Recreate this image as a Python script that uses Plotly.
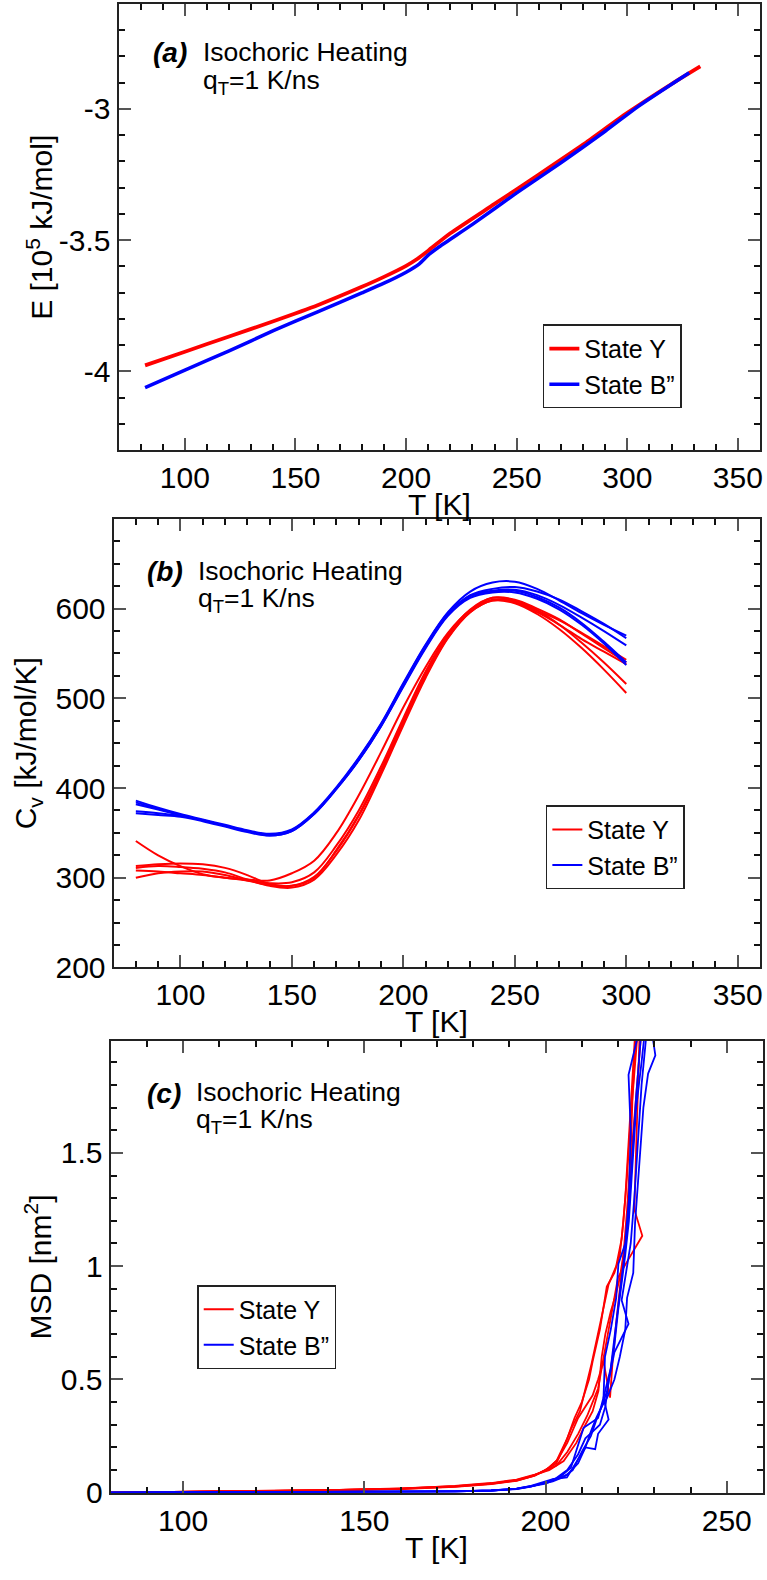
import plotly.graph_objects as go

FONT = "Liberation Sans, Arial, Helvetica, sans-serif"
RED = "#ff0000"
BLUE = "#0000ff"

# ---------------- Panel (a): energy vs T ----------------
E_T_Y = [82, 100, 120, 140, 160, 180, 190, 200, 205, 210, 220, 240, 260, 280, 300, 320, 333]
E_Y = [-3.977, -3.925, -3.867, -3.809, -3.748, -3.678, -3.640, -3.598, -3.572, -3.540,
       -3.474, -3.362, -3.250, -3.136, -3.015, -2.905, -2.838]
E_T_B = [82, 100, 120, 140, 160, 180, 190, 200, 206, 210, 215, 230, 250, 270, 290, 305, 328]
E_B = [-4.062, -3.995, -3.922, -3.845, -3.773, -3.701, -3.664, -3.622, -3.590, -3.557,
       -3.525, -3.440, -3.320, -3.205, -3.085, -2.990, -2.862]

# ---------------- Panel (b): heat capacity vs T ----------------
CV_T = [80, 90, 100, 110, 120, 130, 140, 150, 160, 170, 180, 190, 200, 210, 220, 230, 240, 250, 260, 270, 280, 290, 300]
CV_Y_RUNS = [
    [341, 325, 313, 304, 300, 298, 297, 305, 319, 350, 392, 440, 490, 535, 573, 598, 610, 608, 598, 587, 573, 558, 543],
    [313, 315, 316, 315, 311, 303, 293, 291, 300, 331, 370, 420, 475, 527, 570, 598, 612, 610, 600, 588, 572, 556, 540],
    [311, 313, 312, 310, 306, 298, 291, 289, 298, 326, 364, 415, 470, 523, 567, 596, 609, 607, 596, 582, 566, 552, 538],
    [308, 307, 305, 303, 300, 297, 294, 295, 306, 336, 375, 424, 478, 530, 571, 599, 612, 609, 598, 582, 562, 540, 516],
    [300, 305, 307, 307, 303, 297, 292, 291, 301, 330, 369, 418, 473, 525, 568, 596, 609, 606, 594, 577, 556, 532, 506],
]
CV_B_RUNS = [
    [386, 378, 371, 365, 359, 353, 349, 354, 373, 401, 434, 472, 517, 560, 596, 619, 629, 630, 622, 609, 595, 582, 570],
    [384, 377, 370, 364, 358, 352, 348, 353, 372, 400, 432, 470, 515, 558, 594, 615, 622, 624, 619, 610, 597, 583, 567],
    [382, 376, 370, 364, 358, 352, 347, 352, 371, 399, 431, 469, 514, 557, 593, 614, 620, 621, 615, 604, 590, 575, 559],
    [374, 372, 369, 364, 358, 352, 348, 353, 372, 400, 433, 471, 516, 559, 595, 614, 619, 620, 613, 601, 584, 563, 540],
    [372, 370, 368, 363, 357, 351, 347, 352, 371, 399, 431, 469, 513, 556, 592, 612, 618, 618, 611, 599, 582, 561, 537],
]

# ---------------- Panel (c): MSD vs T ----------------
MSD_Y_T = [
    [80, 100, 120, 140, 160, 175, 185, 192, 197, 200, 203, 206, 208, 210, 212, 213, 215, 216.9, 219, 220.5, 221.5, 222.5, 223.5, 224.5, 225.5],
    [80, 100, 120, 140, 160, 175, 185, 192, 196, 199, 203, 206, 209, 211.5, 213, 214.5, 215.5, 217, 218.5, 220, 222.5, 226.7, 224.5, 225, 226],
    [80, 100, 120, 140, 160, 175, 185, 192, 197, 201, 203.5, 206, 209, 211, 213, 214.5, 216, 217.8, 218.5, 219.5, 220.5, 221.5, 222.5, 223.5, 224, 225],
    [80, 100, 120, 140, 160, 175, 185, 192, 197, 200, 203, 205, 207, 209.5, 212.7, 217.4, 219.5, 221, 222, 223, 224, 224.8],
    [80, 100, 120, 140, 160, 175, 185, 192, 197, 201, 205, 208.5, 211, 213, 214.6, 215.5, 216.5, 218, 219.5, 220.5, 222, 223, 224, 225.5, 226.5],
]
MSD_Y = [
    [0.001, 0.004, 0.007, 0.011, 0.018, 0.028, 0.040, 0.056, 0.078, 0.10, 0.14, 0.24, 0.33, 0.40, 0.50, 0.58, 0.72, 0.91, 0.97, 1.05, 1.20, 1.40, 1.65, 1.85, 2.05],
    [0.001, 0.004, 0.008, 0.012, 0.019, 0.029, 0.041, 0.055, 0.072, 0.09, 0.12, 0.18, 0.26, 0.34, 0.40, 0.46, 0.55, 0.68, 0.82, 0.95, 1.02, 1.134, 1.25, 1.50, 2.05],
    [0.001, 0.003, 0.006, 0.010, 0.016, 0.026, 0.038, 0.053, 0.075, 0.11, 0.15, 0.22, 0.33, 0.38, 0.43, 0.50, 0.58, 0.42, 0.58, 0.75, 0.90, 1.05, 1.25, 1.50, 1.75, 2.05],
    [0.001, 0.004, 0.007, 0.011, 0.017, 0.027, 0.039, 0.054, 0.076, 0.10, 0.13, 0.20, 0.28, 0.36, 0.57, 0.92, 1.00, 1.12, 1.30, 1.55, 1.80, 2.05],
    [0.001, 0.004, 0.007, 0.012, 0.018, 0.030, 0.043, 0.058, 0.080, 0.10, 0.14, 0.22, 0.30, 0.36, 0.45, 0.60, 0.70, 0.80, 0.88, 0.95, 1.10, 1.30, 1.55, 1.85, 2.05],
]
MSD_B_T = [
    [80, 100, 120, 140, 160, 175, 185, 192, 196, 199, 202, 205.9, 208, 211, 213.7, 214.5, 217.4, 216, 218, 219, 220.2, 221, 222, 223, 224, 225, 226.5],
    [80, 100, 120, 140, 160, 175, 185, 192, 196, 200, 203, 206, 209, 211, 213, 215, 216.5, 217.5, 219, 222.9, 221, 222.2, 223.5, 224.5, 225.5, 226.5, 228],
    [80, 100, 120, 140, 160, 175, 185, 192, 196, 201, 204, 207, 210.5, 212.5, 214.5, 216, 216.4, 218, 219.5, 220.1, 222, 223, 223.5, 222.9, 224.5, 226],
    [80, 100, 120, 140, 160, 175, 185, 192, 196, 202, 205, 207.5, 210, 212.5, 214, 215.5, 217, 219, 220.5, 222, 222.5, 224.2, 224.7, 225.8, 227, 228.3, 230.3, 229.2],
    [80, 100, 120, 140, 160, 175, 185, 192, 196, 200, 203, 206, 209, 211, 212.5, 214, 215.5, 217, 218, 219, 220, 221, 222, 223, 224, 225, 226.5, 227.5],
]
MSD_B = [
    [0.0, 0.001, 0.002, 0.003, 0.004, 0.006, 0.010, 0.018, 0.030, 0.045, 0.060, 0.068, 0.12, 0.20, 0.192, 0.26, 0.323, 0.42, 0.55, 0.68, 0.82, 0.95, 1.08, 1.25, 1.50, 1.75, 2.05],
    [0.0, 0.001, 0.002, 0.003, 0.004, 0.006, 0.010, 0.017, 0.028, 0.045, 0.065, 0.10, 0.17, 0.24, 0.27, 0.30, 0.38, 0.50, 0.62, 0.745, 0.85, 0.97, 1.10, 1.30, 1.55, 1.80, 2.05],
    [0.0, 0.001, 0.002, 0.003, 0.004, 0.006, 0.009, 0.016, 0.027, 0.05, 0.07, 0.11, 0.287, 0.31, 0.33, 0.42, 0.60, 0.72, 0.86, 1.01, 1.10, 1.30, 1.60, 1.844, 1.95, 2.05],
    [0.0, 0.001, 0.002, 0.003, 0.004, 0.006, 0.010, 0.018, 0.029, 0.05, 0.07, 0.10, 0.18, 0.25, 0.32, 0.38, 0.42, 0.50, 0.60, 0.72, 0.86, 0.97, 1.19, 1.45, 1.70, 1.85, 1.93, 2.05],
    [0.0, 0.001, 0.002, 0.003, 0.004, 0.006, 0.010, 0.017, 0.028, 0.04, 0.06, 0.08, 0.13, 0.20, 0.27, 0.33, 0.38, 0.45, 0.55, 0.65, 0.80, 0.92, 1.05, 1.20, 1.45, 1.70, 1.90, 2.05],
]

LABELS = ["State Y", "State B\u201d"]
PANEL_TAGS = ["(a)", "(b)", "(c)"]
HEAT_TEXT = "Isochoric Heating"
RATE_TEXT = "q<sub>T</sub>=1 K/ns"
X_TITLE = "T [K]"
Y_TITLES = ["E [10<sup>5</sup> kJ/mol]", "C<sub>v</sub> [kJ/mol/K]", "MSD [nm<sup>2</sup>]"]

W, H = 767, 1580

fig = go.Figure()

# panel a
fig.add_trace(go.Scatter(x=E_T_Y, y=E_Y, mode="lines", line=dict(color=RED, width=3.8, shape="spline", smoothing=0.6),
                         name=LABELS[0], legend="legend", xaxis="x", yaxis="y"))
fig.add_trace(go.Scatter(x=E_T_B, y=E_B, mode="lines", line=dict(color=BLUE, width=3.5, shape="spline", smoothing=0.6),
                         name=LABELS[1], legend="legend", xaxis="x", yaxis="y"))

# panel b
for i, run in enumerate(CV_Y_RUNS):
    fig.add_trace(go.Scatter(x=CV_T, y=run, mode="lines", line=dict(color=RED, width=2, shape="spline", smoothing=1.0),
                             name=LABELS[0], showlegend=(i == 0), legend="legend2", xaxis="x2", yaxis="y2"))
for i, run in enumerate(CV_B_RUNS):
    fig.add_trace(go.Scatter(x=CV_T, y=run, mode="lines", line=dict(color=BLUE, width=2, shape="spline", smoothing=1.0),
                             name=LABELS[1], showlegend=(i == 0), legend="legend2", xaxis="x2", yaxis="y2"))

# panel c
for i, (tt, mm) in enumerate(zip(MSD_Y_T, MSD_Y)):
    fig.add_trace(go.Scatter(x=tt, y=mm, mode="lines", line=dict(color=RED, width=1.8),
                             name=LABELS[0], showlegend=(i == 0), legend="legend3", xaxis="x3", yaxis="y3"))
for i, (tt, mm) in enumerate(zip(MSD_B_T, MSD_B)):
    fig.add_trace(go.Scatter(x=tt, y=mm, mode="lines", line=dict(color=BLUE, width=1.8),
                             name=LABELS[1], showlegend=(i == 0), legend="legend3", xaxis="x3", yaxis="y3"))


def px_x(p):
    return p / W


def px_y(p):
    return 1 - p / H


def axis(rng, dtick, mdtick, domain, anchor, **kw):
    d = dict(range=rng, domain=domain, anchor=anchor, showline=True, linecolor="#222", linewidth=2,
             mirror="allticks", ticks="inside", ticklen=12, tickwidth=1.8, tickcolor="#555",
             dtick=dtick, tick0=0, showgrid=False, zeroline=False,
             minor=dict(dtick=mdtick, tick0=0, ticks="inside", ticklen=6, tickwidth=1.5, tickcolor="#111", showgrid=False),
             tickfont=dict(family=FONT, size=30, color="black"))
    d.update(kw)
    return d


panels = [
    dict(x=(119, 763), y=(4, 455), ytx=40),
    dict(x=(114, 763), y=(525, 978), ytx=28),
    dict(x=(111, 766), y=(1052, 1509), ytx=38),
]


def xdom(i):
    return [px_x(panels[i]["x"][0]), px_x(panels[i]["x"][1])]


def ydom(i):
    return [px_y(panels[i]["y"][1]), px_y(panels[i]["y"][0])]


layout = dict(
    width=W, height=H, margin=dict(l=0, r=0, t=0, b=0),
    paper_bgcolor="white", plot_bgcolor="white",
    font=dict(family=FONT, color="black"),
    xaxis=axis([70, 360], 50, 10, xdom(0), "y"),
    yaxis=axis([-4.3, -2.6], 0.5, 0.1, ydom(0), "x",
               tickmode="array", tickvals=[-4, -3.5, -3], ticktext=["-4", "-3.5", "-3"]),
    xaxis2=axis([70, 360], 50, 10, xdom(1), "y2"),
    yaxis2=axis([200, 699.5], 100, 25, ydom(1), "x2"),
    xaxis3=axis([80, 260], 50, 10, xdom(2), "y3"),
    yaxis3=axis([0, 1.995], 0.5, 0.1, ydom(2), "x3"),
    showlegend=True,
)

leg_common = dict(xanchor="left", yanchor="top", bgcolor="white", bordercolor="#222", borderwidth=1.5,
                  font=dict(family=FONT, size=25, color="black"), tracegroupgap=0)
layout["legend"] = dict(x=px_x(545), y=px_y(328), **leg_common)
layout["legend2"] = dict(x=px_x(548), y=px_y(814), **leg_common)
layout["legend3"] = dict(x=px_x(198), y=px_y(1299), **leg_common)

fig.update_layout(**layout)

# axis titles
for i, p in enumerate(panels):
    xc = (p["x"][0] + p["x"][1]) / 2
    yc = (p["y"][0] + p["y"][1]) / 2
    fig.add_annotation(x=px_x(xc), y=px_y(p["y"][1] + 55), xref="paper", yref="paper", xanchor="center",
                       yanchor="middle", text=X_TITLE, showarrow=False, borderpad=0,
                       font=dict(family=FONT, size=30, color="black"))
    fig.add_annotation(x=px_x(p["ytx"]), y=px_y(yc), xref="paper", yref="paper", xanchor="center",
                       yanchor="middle", text=Y_TITLES[i], textangle=-90, showarrow=False, borderpad=0,
                       font=dict(family=FONT, size=30, color="black"))

ann_pos = [
    (189, 53, 203, 53, 203, 83),
    (185, 578, 198, 577, 198, 607),
    (183, 1105, 196, 1104, 196, 1133),
]
for tag, (tx, ty, hx, hy, qx, qy) in zip(PANEL_TAGS, ann_pos):
    fig.add_annotation(x=px_x(tx), y=px_y(ty), xref="paper", yref="paper", xanchor="right", yanchor="middle",
                       text="<b><i>" + tag + "</i></b>", showarrow=False, borderpad=0,
                       font=dict(family=FONT, size=28, color="black"))
    fig.add_annotation(x=px_x(hx), y=px_y(hy), xref="paper", yref="paper", xanchor="left", yanchor="middle",
                       text=HEAT_TEXT, showarrow=False, borderpad=0, font=dict(family=FONT, size=26.5, color="black"))
    fig.add_annotation(x=px_x(qx), y=px_y(qy), xref="paper", yref="paper", xanchor="left", yanchor="middle",
                       text=RATE_TEXT, showarrow=False, borderpad=0, font=dict(family=FONT, size=26.5, color="black"))

fig.write_html("out.html")
